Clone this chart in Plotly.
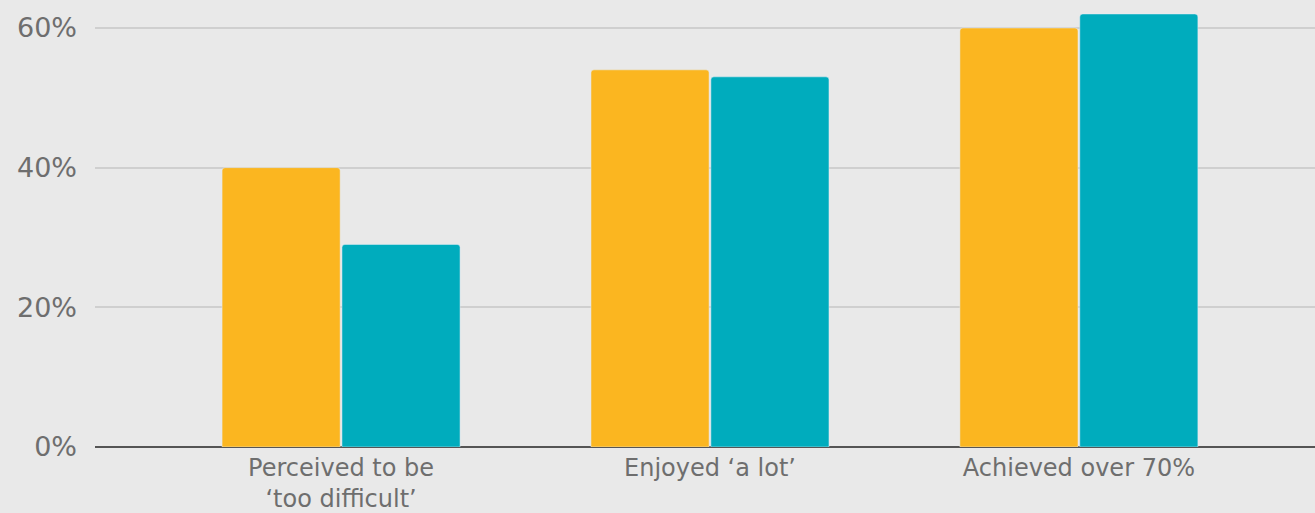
import plotly.graph_objects as go

categories = ["Perceived to be<br>‘too difficult’", "Enjoyed ‘a lot’", "Achieved over 70%"]
series_a = [40, 54, 60]
series_b = [29, 53, 62]
y_ticks = [0, 20, 40, 60]
y_tick_labels = ["0%", "20%", "40%", "60%"]

x_pos = list(range(len(categories)))

fig = go.Figure()
fig.add_bar(x=x_pos, y=series_a, name="A", marker=dict(color="#fbb620", cornerradius=3))
fig.add_bar(x=x_pos, y=series_b, name="B", marker=dict(color="#00acbd", cornerradius=3))

font_family = "'DejaVu Sans', sans-serif"
fig.update_layout(
    width=1315, height=513,
    margin=dict(l=95, r=0, t=0, b=66),
    paper_bgcolor="#e9e9e9", plot_bgcolor="#e9e9e9",
    barmode="group", bargap=0.35, bargroupgap=0.015,
    showlegend=False,
    font=dict(family=font_family, color="#6e6e6e"),
)
fig.update_xaxes(
    tickmode="array", tickvals=x_pos, ticktext=categories,
    range=[-0.667, 2.64], showgrid=False, ticks="",
    tickfont=dict(size=24, color="#6e6e6e"),
    showline=False, ticklabelstandoff=4,
)
fig.update_yaxes(
    range=[0, 64], tickmode="array", tickvals=y_ticks, ticktext=y_tick_labels,
    showgrid=True, gridcolor="#cfcfcf", gridwidth=2,
    zeroline=True, zerolinecolor="#555555", zerolinewidth=2,
    tickfont=dict(size=27, color="#6e6e6e"), ticklabelstandoff=17,
)
fig.write_html("out.html")
